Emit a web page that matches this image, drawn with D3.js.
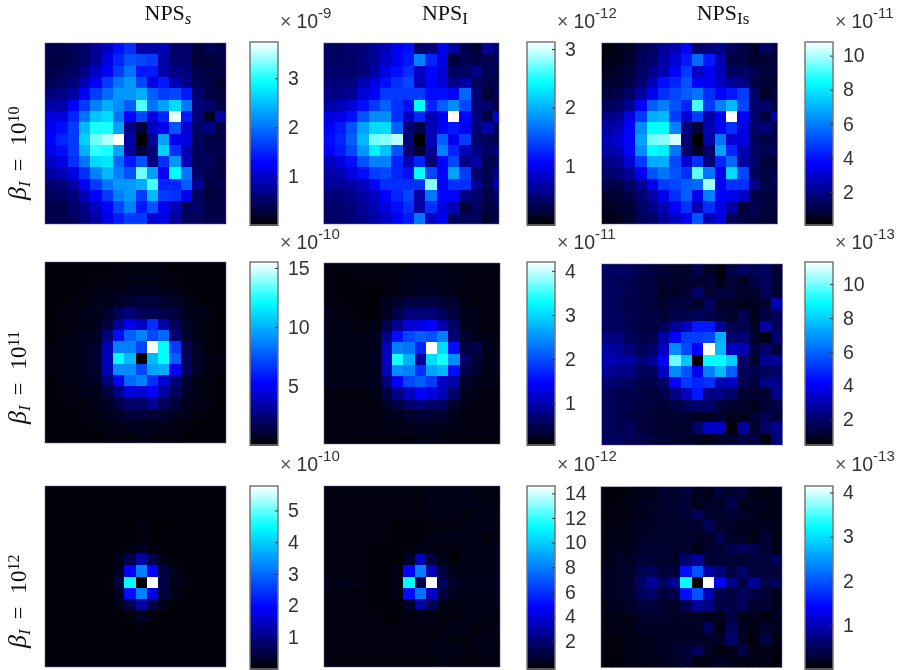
<!DOCTYPE html>
<html>
<head>
<meta charset="utf-8">
<title>NPS maps</title>
<script src="https://d3js.org/d3.v7.min.js"></script>
<style>
    html, body { margin: 0; padding: 0; background: #fff; }
    svg { display: block; }
    svg.chart { filter: blur(0.35px); }
    .cell { shape-rendering: crispEdges; }
    .tick text, .expo { font-family: "Liberation Sans", sans-serif; font-size: 19.5px; fill: #333; }
    .title, .rowlabel { font-family: "Liberation Serif", serif; font-size: 23px; fill: #111; }
    .title { font-size: 22px; }
</style>
</head>
<body>
<script>
// cell levels are percent of the colorbar range
var npsS_10 = [
    [10,10,12,14,20,26,36,42,22,22,24,14,14,8,12,10],
    [9,9,11,14,20,30,40,48,46,44,22,14,14,7,7,9],
    [10,11,13,18,26,34,44,54,38,38,22,18,16,10,9,8],
    [11,13,16,24,34,44,54,60,46,30,38,24,18,11,9,6],
    [16,18,22,34,44,52,60,60,64,50,44,46,38,15,9,8],
    [22,22,34,44,56,64,58,50,85,54,62,72,54,16,14,9],
    [30,30,40,54,68,72,54,34,46,30,40,98,38,16,5,22],
    [32,36,44,66,80,80,62,18,8,26,32,48,28,14,18,9],
    [34,40,44,70,88,93,100,22,0,20,62,32,30,12,9,9],
    [32,36,44,64,82,80,62,20,8,16,70,42,24,12,10,10],
    [26,30,42,54,72,74,52,38,48,16,42,60,24,12,12,8],
    [22,24,30,42,56,66,56,48,88,62,34,78,54,14,10,9],
    [14,16,22,32,44,54,60,60,64,84,40,40,50,20,9,10],
    [12,13,16,24,34,44,56,60,44,66,44,42,32,12,8,9],
    [10,10,14,18,26,34,46,56,38,48,32,24,12,14,9,9],
    [10,10,12,16,22,30,38,44,44,28,30,20,12,12,10,10]
];
var npsI_10 = [
    [13,13,15,16,20,24,32,36,14,16,32,22,10,7,20,14],
    [13,13,14,16,20,26,32,38,56,40,30,8,11,9,11,11],
    [14,14,14,16,22,30,36,42,26,34,28,13,13,18,11,10],
    [16,16,17,24,30,36,42,46,24,34,28,18,22,12,10,9],
    [18,18,20,28,34,44,44,44,44,36,36,34,52,16,7,11],
    [22,24,28,36,44,50,42,36,78,40,50,58,46,15,14,9],
    [30,30,36,48,58,58,42,26,40,24,32,100,35,16,10,28],
    [34,38,48,62,72,72,50,16,10,24,32,38,32,16,22,12],
    [36,40,50,66,88,90,94,16,0,24,50,32,44,14,12,10],
    [34,38,46,60,76,68,48,14,6,20,56,40,24,18,14,16],
    [26,30,36,48,56,56,40,24,40,16,34,46,18,22,10,12],
    [22,24,30,36,44,46,40,36,78,46,34,62,44,14,11,18],
    [20,20,22,26,34,42,42,42,42,90,34,42,42,20,11,24],
    [16,16,18,22,26,34,40,46,22,54,34,34,18,14,10,13],
    [14,14,16,20,24,30,36,42,22,42,30,24,8,13,9,9],
    [14,14,16,18,22,26,32,38,54,26,32,13,12,12,7,10]
];
var npsIs_10 = [
    [2,4,5,11,13,20,24,34,14,16,18,12,9,5,13,9],
    [3,4,6,12,14,22,28,38,52,38,24,9,9,6,7,8],
    [4,6,8,13,18,24,34,44,26,32,24,13,13,11,8,8],
    [6,7,10,15,24,36,40,48,34,32,26,20,18,9,7,6],
    [8,10,14,22,32,42,46,50,54,42,34,38,44,14,5,9],
    [12,14,20,34,50,56,48,40,84,44,56,66,46,14,14,8],
    [18,20,30,44,64,66,44,28,44,22,34,100,34,14,8,22],
    [22,24,34,58,78,78,56,16,8,24,32,42,30,14,16,10],
    [24,28,34,62,88,90,96,16,0,22,54,28,30,12,9,10],
    [22,24,34,58,78,76,54,14,6,14,62,40,24,14,11,12],
    [18,20,28,44,64,64,46,28,42,16,40,52,22,14,8,7],
    [14,16,20,32,48,54,48,42,86,54,32,72,46,12,9,12],
    [10,10,14,20,32,44,46,50,52,92,34,42,42,18,9,12],
    [6,7,10,15,22,32,42,50,32,56,34,32,26,10,8,9],
    [4,6,7,13,18,24,34,42,24,42,30,22,8,11,8,8],
    [3,4,6,12,14,20,26,32,48,24,30,12,9,9,7,7]
];
var npsS_11 = [
    [1,1,1,1,1,1,2,2,2,2,2,1,1,1,1,1],
    [1,1,1,1,2,2,2,3,3,3,2,2,1,1,1,1],
    [1,1,1,2,2,3,3,4,4,4,3,3,2,1,1,1],
    [1,1,2,2,3,4,5,7,8,8,6,5,3,2,1,1],
    [1,2,2,3,3,6,12,16,12,11,10,8,4,3,2,1],
    [1,2,2,3,4,8,20,32,26,42,22,12,5,3,2,1],
    [1,2,3,4,5,16,36,50,56,46,52,15,6,3,2,1],
    [2,2,3,4,6,24,56,56,46,100,78,44,10,5,2,1],
    [2,2,3,4,7,24,78,66,0,66,78,50,12,5,3,2],
    [2,2,3,4,6,24,58,58,46,62,64,32,12,5,2,2],
    [1,2,3,4,5,16,34,52,56,42,28,16,6,3,2,1],
    [1,2,2,3,3,8,18,30,28,34,22,12,5,3,2,1],
    [1,1,2,2,3,5,10,14,14,20,12,8,4,3,2,1],
    [1,1,1,2,2,4,5,8,8,7,6,4,3,2,1,1],
    [1,1,1,1,2,3,3,4,4,4,3,3,2,1,1,1],
    [1,1,1,1,1,2,2,2,3,2,2,2,1,1,1,1]
];
var npsI_11 = [
    [2,2,2,2,2,2,2,3,3,3,3,2,2,2,2,2],
    [2,1,1,2,2,2,3,3,4,4,3,3,2,2,2,2],
    [2,1,1,1,1,2,3,4,5,5,4,3,2,2,2,2],
    [2,2,1,1,1,4,6,9,9,9,7,6,3,2,2,2],
    [3,2,2,1,1,4,10,16,16,16,12,8,4,3,2,2],
    [3,3,2,2,3,10,20,28,30,34,22,14,4,3,2,2],
    [3,3,3,3,4,18,36,46,50,48,56,16,6,3,3,2],
    [3,3,3,3,4,24,56,54,40,100,72,36,8,10,3,3],
    [3,3,3,3,5,26,80,64,20,72,80,58,14,7,4,3],
    [3,3,3,3,4,24,58,56,42,62,66,36,10,6,3,3],
    [3,3,3,3,4,16,34,46,50,44,26,22,6,4,3,2],
    [2,2,2,2,3,9,18,26,34,30,24,14,4,3,2,2],
    [2,2,2,2,2,5,9,14,16,14,12,6,3,2,2,2],
    [2,2,2,2,2,3,4,6,7,7,6,4,2,2,2,2],
    [2,2,2,2,2,2,3,3,4,4,3,3,2,2,2,2],
    [2,2,2,2,2,2,2,2,3,3,2,2,2,2,2,2]
];
var npsIs_11 = [
    [13,13,12,10,9,7,6,6,10,5,2,9,13,12,13,7],
    [13,12,11,9,8,6,6,6,7,7,3,7,5,9,12,7],
    [13,12,11,9,8,5,5,7,14,7,8,8,5,6,12,6],
    [13,11,10,9,8,6,8,8,6,13,5,5,4,4,7,24],
    [13,12,11,9,9,7,10,10,12,10,8,6,11,4,9,12],
    [13,12,11,9,8,12,20,26,38,38,20,11,10,6,22,12],
    [17,16,12,10,10,22,34,44,44,46,64,15,15,7,3,14],
    [22,20,16,12,14,26,58,46,34,100,66,26,24,8,14,8],
    [24,22,22,16,20,34,88,68,0,78,78,70,14,6,20,20],
    [20,18,18,12,12,26,58,48,32,56,66,50,12,11,12,14],
    [15,14,13,10,10,14,34,44,40,42,24,26,11,8,18,18],
    [12,11,10,9,8,10,18,26,38,18,18,14,7,6,7,18],
    [12,11,10,8,8,7,9,12,14,14,8,6,6,4,7,9],
    [12,11,9,8,7,6,7,6,5,5,7,4,3,7,11,7],
    [12,11,12,8,7,6,6,6,14,26,26,2,20,6,13,19],
    [13,12,11,10,8,7,7,6,5,3,6,6,9,9,2,16]
];
var npsS_12 = [
    [1,1,1,1,1,1,1,1,1,1,1,1,1,1,1,1],
    [1,1,1,1,1,1,1,1,1,1,1,1,1,1,1,1],
    [1,1,1,1,1,1,1,1,1,1,1,1,1,1,1,1],
    [1,1,1,1,1,1,1,1,2,1,1,1,1,1,1,1],
    [1,1,1,1,1,1,1,1,2,1,1,1,1,1,1,1],
    [1,1,1,1,1,1,1,2,5,2,1,1,1,1,1,1],
    [1,1,1,1,1,1,3,10,22,10,3,1,1,1,1,1],
    [1,1,1,1,1,1,5,34,56,34,8,3,1,1,1,1],
    [1,1,1,1,1,2,8,78,0,100,10,4,2,1,1,1],
    [1,1,1,1,1,1,5,36,56,30,8,3,1,1,1,1],
    [1,1,1,1,1,1,3,10,22,10,4,1,1,1,1,1],
    [1,1,1,1,1,1,1,2,5,2,1,1,1,1,1,1],
    [1,1,1,1,1,1,1,1,2,1,1,1,1,1,1,1],
    [1,1,1,1,1,1,1,1,1,1,1,1,1,1,1,1],
    [1,1,1,1,1,1,1,1,1,1,1,1,1,1,1,1],
    [1,1,1,1,1,1,1,1,1,1,1,1,1,1,1,1]
];
var npsI_12 = [
    [2,2,2,2,2,2,2,2,2,3,3,3,3,2,2,2],
    [2,2,2,2,2,2,2,2,2,3,3,3,3,3,3,2],
    [2,2,2,2,2,2,2,2,2,3,3,3,2,3,3,3],
    [2,2,2,2,2,2,1,1,1,2,2,2,3,3,3,2],
    [2,2,2,2,2,2,1,1,1,3,3,3,3,3,2,3],
    [2,2,2,2,1,1,1,2,3,3,2,2,3,3,3,3],
    [2,2,2,2,1,1,1,6,24,8,3,1,3,3,3,3],
    [2,2,2,2,1,1,3,34,56,24,8,3,3,3,3,3],
    [3,3,3,2,1,1,3,78,10,100,12,6,3,4,3,4],
    [2,2,2,2,1,1,3,36,54,26,8,4,3,3,3,3],
    [2,2,2,2,1,1,1,6,22,12,4,2,3,3,3,3],
    [2,2,2,2,2,1,1,2,3,3,2,2,2,3,3,2],
    [2,2,2,2,2,2,2,2,2,2,2,3,3,2,2,3],
    [2,2,2,2,2,2,2,2,2,2,3,2,2,3,3,2],
    [2,2,2,2,2,2,2,2,2,2,3,3,2,2,3,2],
    [2,2,2,2,2,2,2,2,2,2,3,2,2,2,2,2]
];
var npsIs_12 = [
    [1,1,2,3,4,6,6,8,4,3,8,6,8,3,2,3],
    [1,2,3,4,5,6,6,7,4,5,5,10,4,4,4,3],
    [1,2,2,4,5,6,6,7,12,6,6,7,6,5,2,3],
    [2,3,3,5,5,6,6,6,6,12,6,5,3,4,5,3],
    [2,3,3,5,6,6,6,6,5,5,10,5,5,3,7,3],
    [3,4,4,6,6,6,6,6,3,7,7,10,12,10,7,3],
    [3,5,5,7,7,6,6,14,20,7,7,7,6,8,8,12],
    [4,5,6,10,12,8,8,36,48,22,16,9,14,8,8,7],
    [4,5,6,14,20,14,20,78,0,100,34,18,9,20,10,12],
    [4,5,6,12,14,8,10,36,48,24,10,8,12,10,7,4],
    [3,4,5,8,8,6,5,10,20,18,9,10,12,6,7,4],
    [2,3,3,5,6,6,5,5,5,4,4,9,3,4,2,5],
    [2,3,3,5,5,5,5,5,5,12,3,12,5,3,6,4],
    [1,2,3,3,4,5,5,5,5,5,5,14,5,2,9,3],
    [1,2,3,3,4,5,6,7,12,5,2,3,10,3,3,2],
    [1,1,3,3,3,4,5,7,3,3,5,4,3,3,3,1]
];

// colorbar ranges and ticks, row by row
var barRanges = [3.74, 3.12, 10.8, 15.5, 4.2, 11.3, 5.77, 14.6, 4.15];
var barFloors = [0, 0, 0.06, 0, 0.05, 0.5, 0, -0.28, 0];
var barTicks = [
    [1, 2, 3], [1, 2, 3], [2, 4, 6, 8, 10],
    [5, 10, 15], [1, 2, 3, 4], [2, 4, 6, 8, 10],
    [1, 2, 3, 4, 5], [2, 4, 6, 8, 10, 12, 14], [1, 2, 3, 4]
];
var barExponents = ["-9", "-12", "-11", "-10", "-11", "-13", "-10", "-12", "-13"];
var rowExponents = ["10", "11", "12"];
var levelStops = [0, 34, 78, 100];
var colorStops = ["#000000", "#0000ff", "#00ffff", "#ffffff"];

var grids = [npsS_10, npsI_10, npsIs_10, npsS_11, npsI_11, npsIs_11, npsS_12, npsI_12, npsIs_12];

// layout of the panels (left, top, visible width)
var panelBoxes = [
    [45, 43, 181], [323.5, 43, 175.5], [601.5, 43, 176],
    [45, 262, 181], [324, 263, 176], [601.5, 264, 181],
    [45, 486, 181], [324, 486, 176], [601, 486.5, 181]
];
var barLefts = [250, 527, 805];
var barTops = [42, 262, 486];
var expoBase = [28, 249, 471];
var size = 181, barW = 28, barH = 183;

var svg = d3.select("body").append("svg")
    .attr("class", "chart")
    .attr("width", 900)
    .attr("height", 670);

var color = d3.scaleLinear().domain(levelStops).range(colorStops);

var idx = d3.range(16);
var x = d3.scaleBand().domain(idx).range([0, size]);
var y = d3.scaleBand().domain(idx).range([0, size]);

grids.forEach(function(grid, i) {
    var box = panelBoxes[i];

    // nested svg crops the cells that run past the visible width
    var panel = svg.append("svg")
        .attr("x", box[0])
        .attr("y", box[1])
        .attr("width", box[2])
        .attr("height", size);

    panel.selectAll("g")
        .data(grid)
        .enter().append("g")
        .attr("transform", function(d, r) { return "translate(0," + y(r) + ")"; })
        .selectAll("rect")
        .data(function(d) { return d; })
        .enter().append("rect")
        .attr("class", "cell")
        .attr("x", function(d, c) { return x(c); })
        .attr("width", x.bandwidth() + 0.5)
        .attr("height", y.bandwidth() + 0.5)
        .attr("fill", function(d) { return color(d); });

    svg.append("rect")
        .attr("x", box[0])
        .attr("y", box[1])
        .attr("width", box[2])
        .attr("height", size)
        .attr("fill", "none")
        .attr("stroke", "#5f5f99")
        .attr("stroke-opacity", 0.5);

    // colorbar
    var col = i % 3, row = Math.floor(i / 3);
    var left = barLefts[col], top = barTops[row];
    var barY = d3.scaleLinear()
        .domain([barFloors[i], barRanges[i]])
        .range([top + barH, top]);
    var barSteps = d3.range(0, 100, 1);
    var stepY = d3.scaleLinear().domain([0, 100]).range([top + barH, top]);

    svg.append("g").selectAll("rect")
        .data(barSteps)
        .enter().append("rect")
        .attr("class", "cell")
        .attr("x", left)
        .attr("y", function(d) { return stepY(d + 1); })
        .attr("width", barW)
        .attr("height", barH / 100 + 0.5)
        .attr("fill", function(d) { return color(d + 0.5); });

    svg.append("rect")
        .attr("x", left)
        .attr("y", top)
        .attr("width", barW)
        .attr("height", barH)
        .attr("fill", "none")
        .attr("stroke", "#777")
        .attr("stroke-width", 1.5);

    var axis = svg.append("g")
        .attr("transform", "translate(" + (left + barW) + ",0)")
        .call(d3.axisRight(barY)
            .tickValues(barTicks[i])
            .tickFormat(d3.format("d"))
            .tickSize(-3)
            .tickPadding(10));
    axis.select(".domain").remove();
    axis.selectAll("line").attr("stroke", "#333");
    axis.selectAll("text").attr("fill", "#333");

    // exponent above the colorbar
    var expo = svg.append("text")
        .attr("class", "expo")
        .attr("x", left + 30)
        .attr("y", expoBase[row]);
    expo.append("tspan").style("fill", "#555").text("\u00d7");
    expo.append("tspan").attr("dx", 5).text("10");
    expo.append("tspan")
        .attr("dy", -10)
        .style("font-size", "15px")
        .text(barExponents[i]);
});

// column titles
var titles = [["NPS", "s", 168], ["NPS", "I", 445], ["NPS", "Is", 723]];
titles.forEach(function(t) {
    var title = svg.append("text")
        .attr("class", "title")
        .attr("x", t[2])
        .attr("y", 20)
        .attr("text-anchor", "middle");
    title.append("tspan").text(t[0]);
    title.append("tspan")
        .attr("dy", 4)
        .style("font-size", "17px")
        .style("font-style", t[1] === "s" ? "italic" : "normal")
        .text(t[1]);
});

// row labels, anchored at the bottom of the beta
var rowBottoms = [200, 424, 648];
rowExponents.forEach(function(e, i) {
    var label = svg.append("text")
        .attr("class", "rowlabel")
        .attr("transform", "translate(26," + rowBottoms[i] + ") rotate(-90)");
    label.append("tspan")
        .style("font-style", "italic")
        .style("font-size", "26px")
        .text("\u03b2");
    label.append("tspan")
        .attr("dy", 4)
        .style("font-size", "17px")
        .style("font-style", "italic")
        .text("I");
    label.append("tspan").attr("dy", -4).attr("dx", 10).text("=");
    label.append("tspan").attr("dx", 13).text("10");
    label.append("tspan")
        .attr("dy", -7)
        .style("font-size", "16px")
        .text(e);
});
</script>
</body>
</html>
